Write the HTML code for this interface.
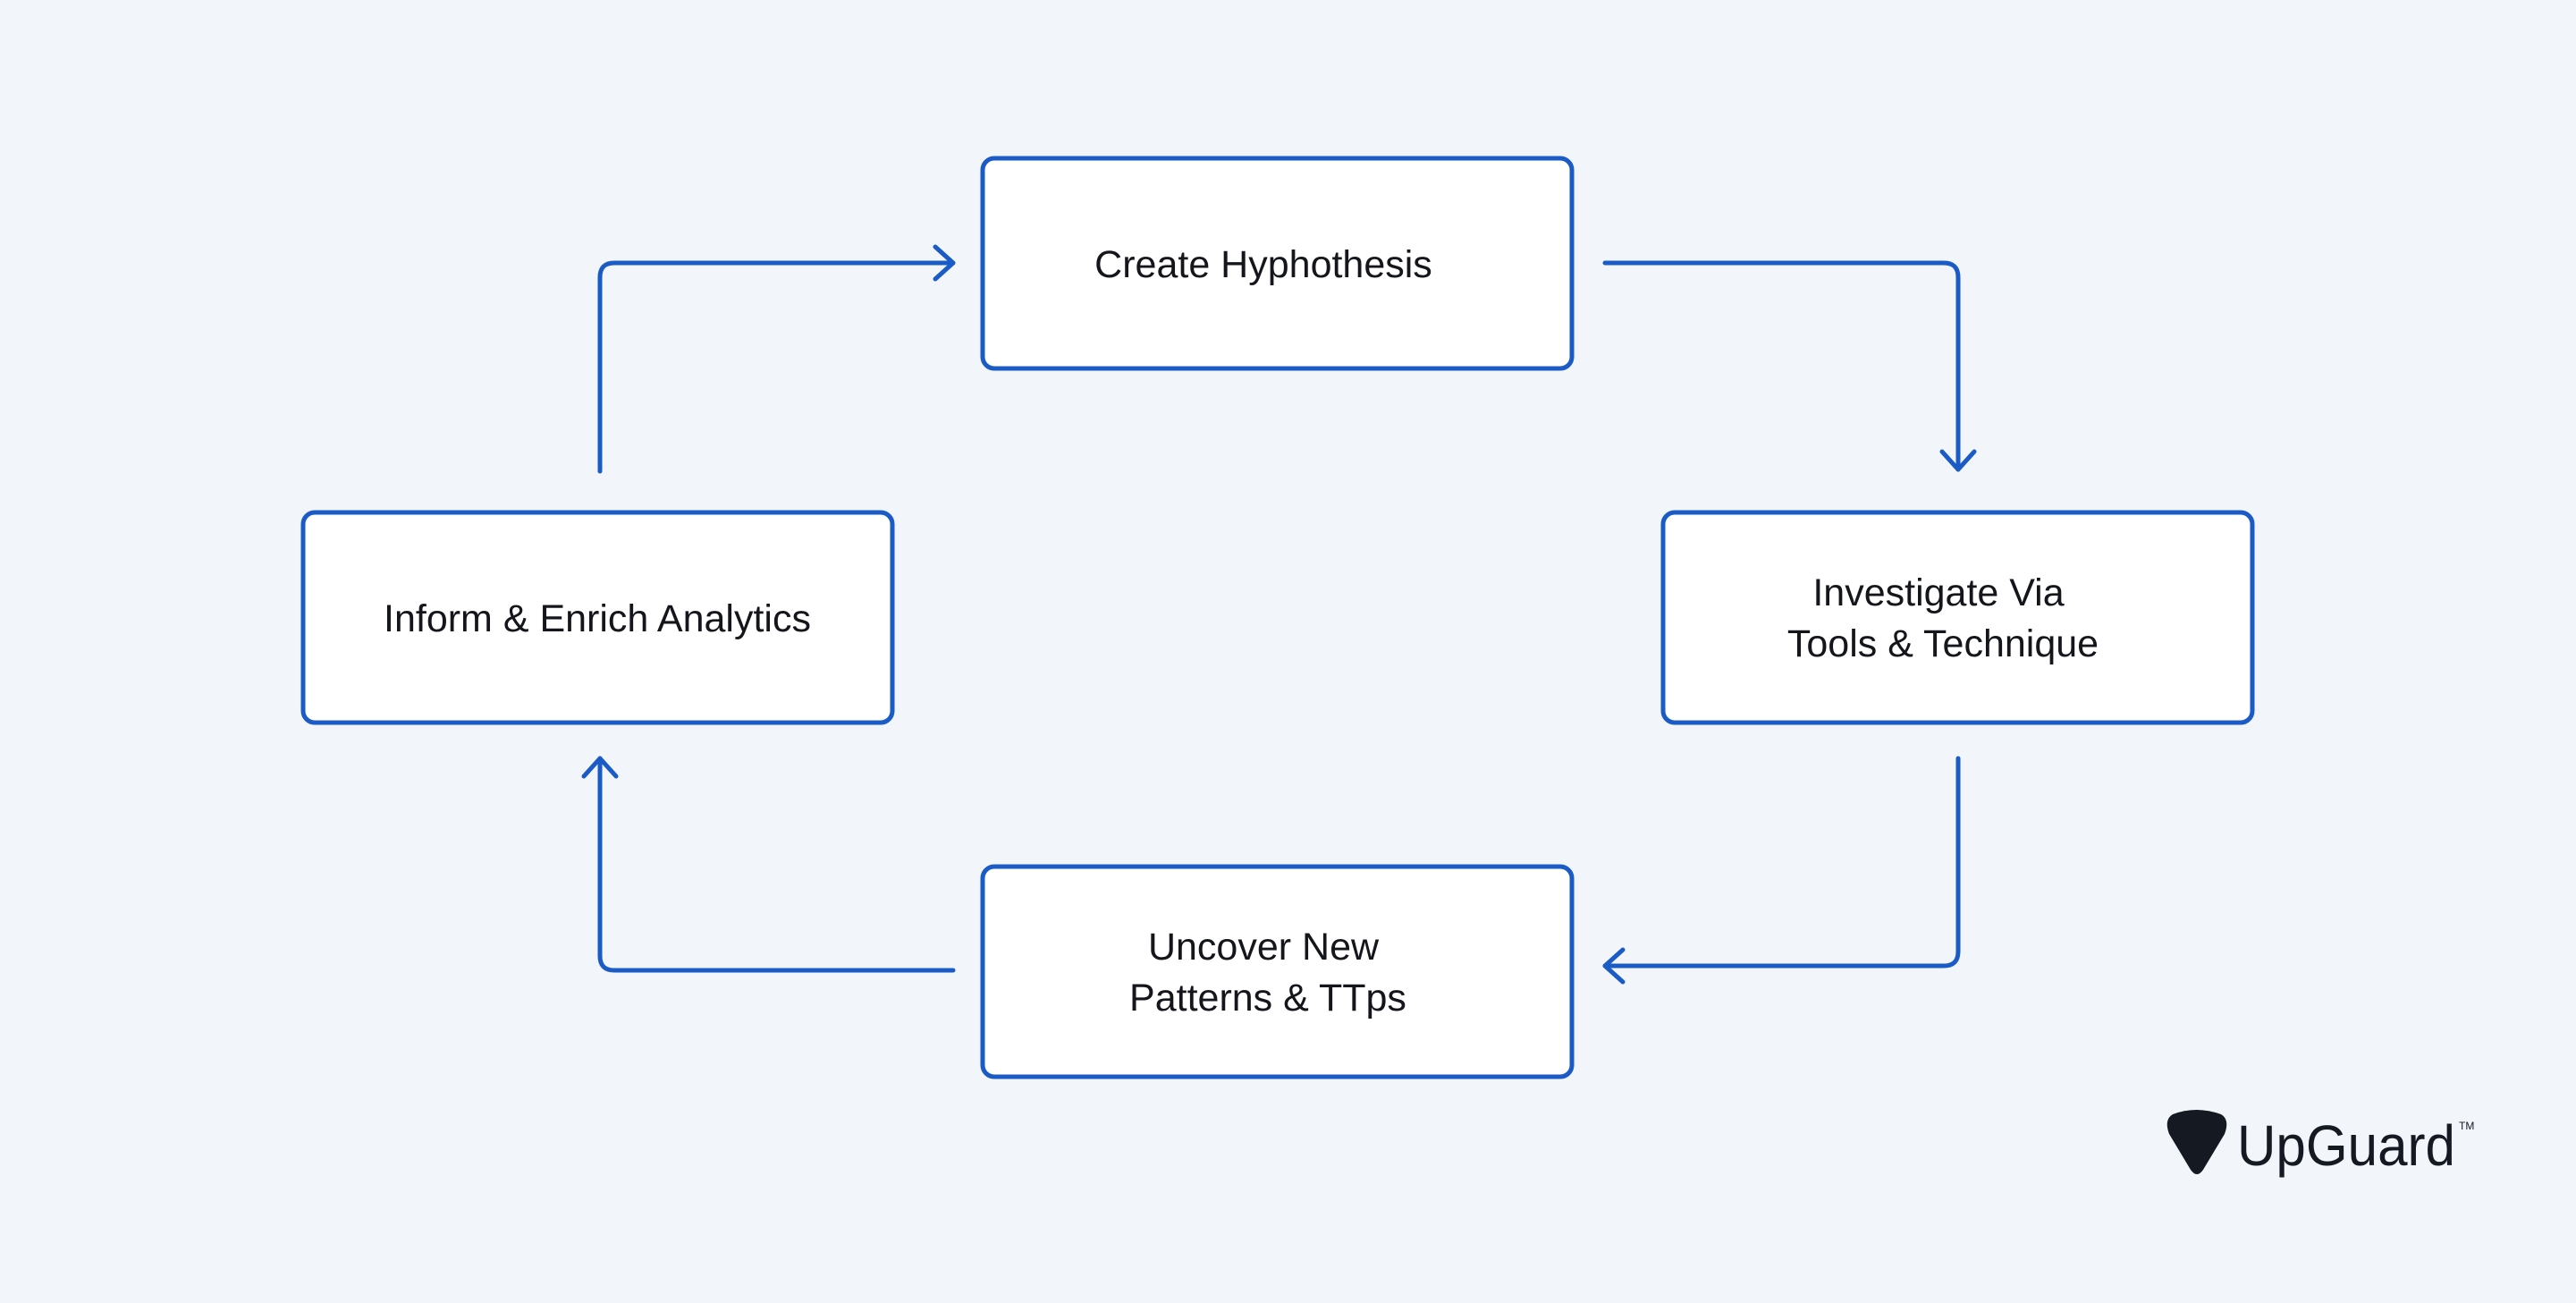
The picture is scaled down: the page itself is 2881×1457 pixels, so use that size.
<!DOCTYPE html>
<html><head><meta charset="utf-8"><style>
body{margin:0;width:2881px;height:1452px;background:#f2f5fa;overflow:hidden;font-family:"Liberation Sans",sans-serif;}
</style></head><body>
<svg width="2881" height="1452" viewBox="0 0 2881 1452" xmlns="http://www.w3.org/2000/svg">
<g fill="#fff" stroke="#1b5bc6" stroke-width="5">
<rect x="1099" y="177" width="659" height="235" rx="13"/>
<rect x="339" y="573" width="659" height="235" rx="13"/>
<rect x="1860" y="573" width="659" height="235" rx="13"/>
<rect x="1099" y="969" width="659" height="235" rx="13"/>
</g>
<g fill="none" stroke="#1b5bc6" stroke-width="5" stroke-linecap="round" stroke-linejoin="round">
<path d="M1795 294 H2174 Q2190 294 2190 310 V525"/>
<path d="M2172 505 L2190 525 L2208 505"/>
<path d="M2190 848 V1064 Q2190 1080 2174 1080 H1795"/>
<path d="M1815 1062 L1795 1080 L1815 1098"/>
<path d="M1066 1085 H687 Q671 1085 671 1069 V848"/>
<path d="M653 868 L671 848 L689 868"/>
<path d="M671 527 V310 Q671 294 687 294 H1066"/>
<path d="M1046 276 L1066 294 L1046 312"/>
</g>
<g font-family="Liberation Sans, sans-serif" font-size="43" fill="#14161c" text-anchor="middle">
<text x="1413" y="310">Create Hyphothesis</text>
<text x="668" y="706">Inform &amp; Enrich Analytics</text>
<text x="2168" y="677">Investigate Via</text>
<text x="2173" y="734">Tools &amp; Technique</text>
<text x="1413" y="1073">Uncover New</text>
<text x="1418" y="1130">Patterns &amp; TTps</text>
</g>
<path d="M2430 1246 Q2456 1236 2484 1246 Q2494 1252 2488 1268 L2464 1308 Q2457 1318 2450 1308 L2426 1268 Q2420 1252 2430 1246 Z" fill="#151922"/>
<text x="2502" y="1303" font-family="Liberation Sans, sans-serif" font-size="64" fill="#151922" textLength="244" lengthAdjust="spacingAndGlyphs">UpGuard</text>
<text x="2750" y="1263" font-family="Liberation Sans, sans-serif" font-size="12" fill="#151922">TM</text>
</svg>
</body></html>
